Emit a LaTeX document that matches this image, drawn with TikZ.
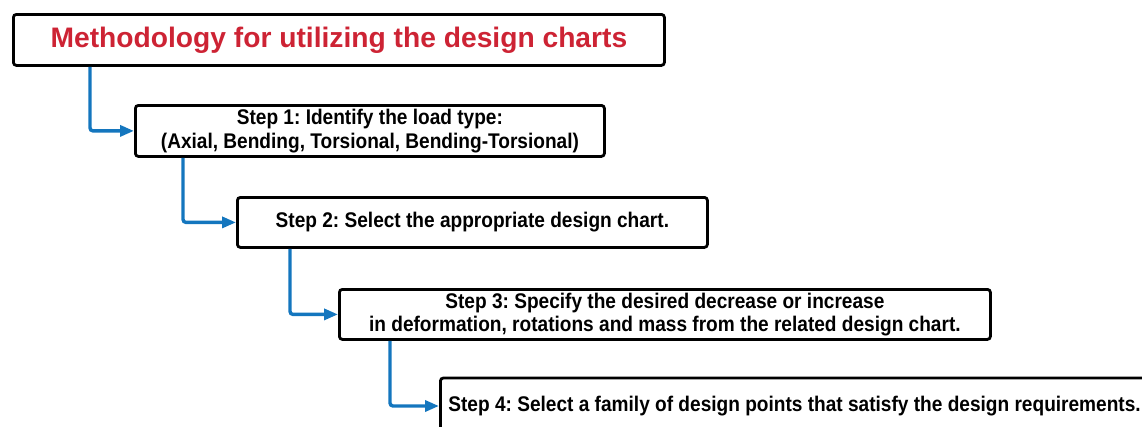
\documentclass[tikz,border=0pt]{standalone}
\usepackage{fontspec}
\setmainfont{Liberation Sans}
\newfontfamily\stepfont{Liberation Sans}[FakeStretch=0.9]
\usetikzlibrary{positioning,arrows.meta,calc}
\definecolor{flowblue}{RGB}{20,118,190}
\definecolor{titlered}{RGB}{205,35,52}

\tikzset{
  box/.style={draw,line width=2.8pt,rounded corners=3pt,anchor=north west,
    align=center,inner sep=0pt,font=\stepfont\fontsize{21.2}{23.5}\selectfont\bfseries},
  flow/.style={-{Triangle[length=14pt,width=11pt]},flowblue,line width=3.4pt,rounded corners=3pt}
}

\begin{document}
\frenchspacing
\begin{tikzpicture}[x=1pt,y=-1pt]
  \useasboundingbox (0,0) rectangle (1142,426);
  \clip (0,0) rectangle (1142,426);
  % boxes
  \node[box,minimum width=651pt,minimum height=51pt,text=titlered,
        font=\fontsize{28.2}{32}\selectfont\bfseries] (title) at (12,13)
     {Methodology for utilizing the design charts};
  \node[box,minimum width=469pt,minimum height=51pt] (stepone) at (134,104)
     {Step 1: Identify the load type:\\(Axial, Bending, Torsional, Bending-Torsional)};
  \node[box,minimum width=470pt,minimum height=50pt] (steptwo) at (236,196)
     {Step 2: Select the appropriate design chart.};
  \node[box,minimum width=651pt,minimum height=50pt] (stepthree) at (338,288)
     {Step 3: Specify the desired decrease or increase\\in deformation, rotations and mass from the related design chart.};
  \node[box,minimum height=56pt,inner xsep=8pt,anchor=west] (stepfour) at (439,406)
     {\makebox[720pt][l]{Step 4: Select a family of design points that satisfy the design requirements.}};
  % connectors
  \draw[flow] ([xshift=78pt]title.south west) |- (stepone.west);
  \draw[flow] ([xshift=49pt]stepone.south west) |- (steptwo.west);
  \draw[flow] ([xshift=54pt]steptwo.south west) |- (stepthree.west);
  \draw[flow] ([xshift=52pt]stepthree.south west) |- (stepfour.west);
\end{tikzpicture}
\end{document}
